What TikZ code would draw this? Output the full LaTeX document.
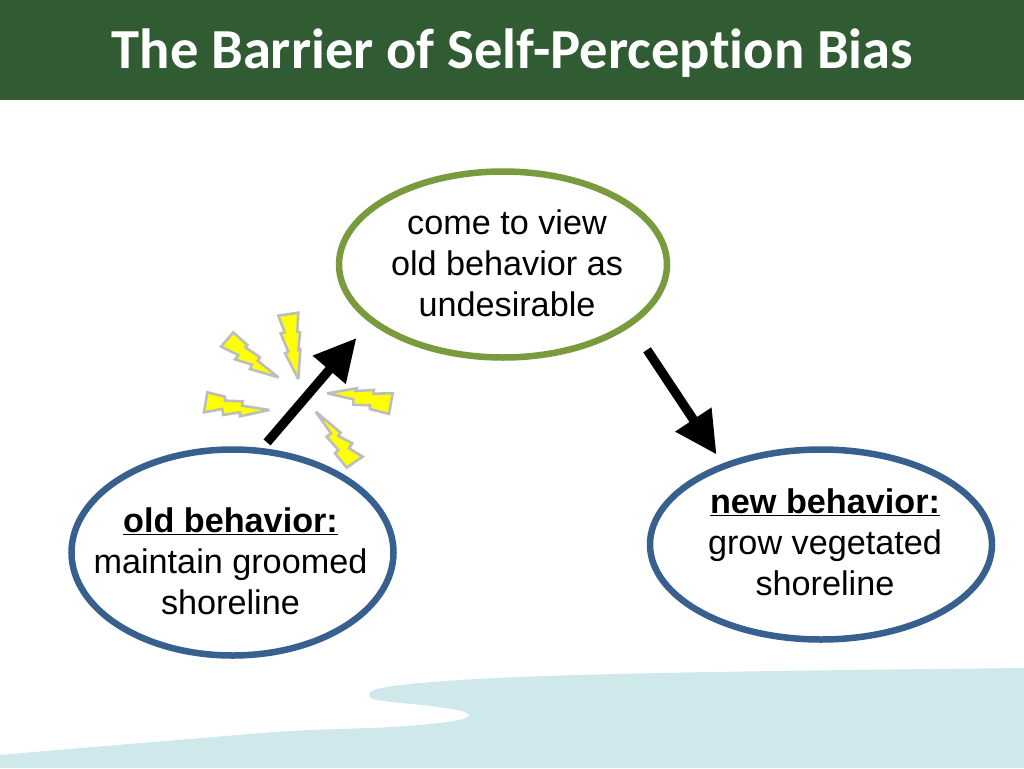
\documentclass[tikz,border=0pt]{standalone}
\usepackage{fontspec}
\setmainfont{Liberation Sans}
\newfontfamily\titlefont[Ligatures=NoCommon]{Carlito}
\usetikzlibrary{shapes.geometric,arrows.meta}
\definecolor{barGreen}{HTML}{315B33}
\definecolor{ringOlive}{HTML}{7A9A3E}
\definecolor{ringBlue}{HTML}{37608F}
\definecolor{waterBlue}{HTML}{CFE8EB}
\definecolor{boltGrey}{HTML}{BDBDBD}
\definecolor{boltYellow}{HTML}{FFFF00}
\tikzset{
  x=1pt,y=-1pt,
  ring/.style={ellipse,draw,line width=6.5pt,inner sep=0pt,outer sep=0pt,fill=white},
  lbl/.style={align=center,font=\fontsize{34.2}{41}\selectfont,inner sep=0pt},
  bigarrow/.style={line width=9.2pt,black,-{Triangle[length=42pt,width=41pt]}},
  bolt/.style={draw=boltGrey,fill=boltYellow,line width=2.6pt,line join=miter,miter limit=3},
}
\begin{document}
\begin{tikzpicture}
\useasboundingbox (0,0) rectangle (1024,768);
\fill[white] (0,0) rectangle (1024,768);
% title bar
\fill[barGreen] (0,0) rectangle (1024,100);
\node[anchor=base,text=white,inner sep=0pt,font=\titlefont\bfseries\fontsize{56.6}{60}\selectfont] (title) at (512.5,68) {The Barrier of Self-Perception Bias};
% water
\fill[waterBlue] (0,755) .. controls (90,747) and (180,740) .. (261,733)
  .. controls (310,729) and (360,729) .. (392,727)
  .. controls (420,725) and (469,722) .. (469,715)
  .. controls (469,709) and (420,705) .. (392,702)
  .. controls (376,700) and (369,699) .. (369,695)
  .. controls (369,690) and (380,688) .. (392,686)
  .. controls (480,675) and (650,672) .. (1024,668)
  -- (1024,768) -- (0,768) -- cycle;
% ellipses
\node[ring,draw=ringOlive,minimum width=328pt,minimum height=186pt] (view) at (503,264.5) {};
\node[ring,draw=ringBlue,minimum width=322pt,minimum height=206pt] (old) at (232.5,552.5) {};
\node[ring,draw=ringBlue,minimum width=342pt,minimum height=190pt] (new) at (821,544.5) {};
% labels
\node[lbl] (viewtext) at (507,263) {come to view\\old behavior as\\undesirable};
\node[lbl] (oldtext) at (230.5,561) {\textbf{\underline{old behavior:}}\\maintain groomed\\shoreline};
\node[lbl] (newtext) at (825,542.5) {\textbf{\underline{new behavior:}}\\grow vegetated\\shoreline};
% arrows
\draw[bigarrow,shorten <=11.3pt,shorten >=23.4pt] (old.75) -- (view.203.8);
\draw[bigarrow,shorten <=31.5pt,shorten >=14pt] (view.-25.9) -- (new.141.1);
% bolts
\begin{scope}[shift={(190,300)},x=0.3333pt,y=-0.3333pt]
\draw[bolt] (130,97) -- (172,135) -- (166,142) -- (210,172) -- (203,182) -- (265,232) -- (180,207) -- (186,194) -- (135,178) -- (145,165) -- (93,140) -- cycle;
\draw[bolt] (265,47) -- (325,38) -- (322,95) -- (330,97) -- (325,150) -- (331,148) -- (325,237) -- (285,160) -- (295,155) -- (272,100) -- (284,97) -- cycle;
\draw[bolt] (52,277) -- (105,290) -- (105,302) -- (158,304) -- (156,317) -- (238,330) -- (150,349) -- (150,337) -- (100,345) -- (97,327) -- (42,337) -- cycle;
\draw[bolt] (412,280) -- (500,265) -- (497,273) -- (552,270) -- (550,281) -- (608,280) -- (597,342) -- (540,327) -- (540,316) -- (490,314) -- (490,298) -- cycle;
\draw[bolt] (377,335) -- (452,398) -- (445,408) -- (487,430) -- (477,445) -- (518,470) -- (470,503) -- (435,460) -- (445,450) -- (410,410) -- (423,400) -- cycle;
\end{scope}
\end{tikzpicture}
\end{document}
